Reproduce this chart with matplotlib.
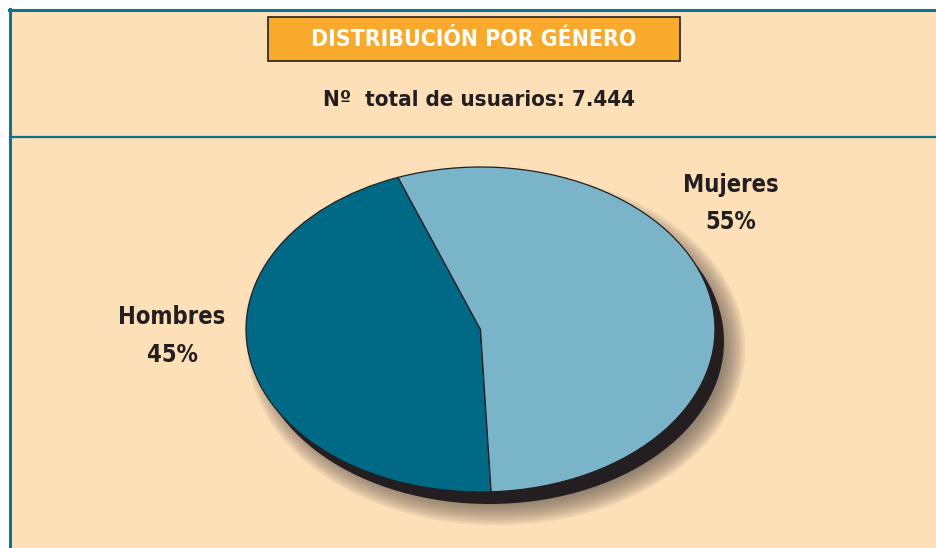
import matplotlib.pyplot as plt
from matplotlib.patches import Ellipse, Rectangle
from matplotlib.lines import Line2D

# data
labels = ['Hombres', 'Mujeres']
shares = [45, 55]
colors = ['#006a86', '#7ab4c8']
title = 'DISTRIBUCIÓN POR GÉNERO'
subtitle = 'Nº  total de usuarios: 7.444'

W, H = 937, 548
bg = '#fddfb8'
teal = '#0e7290'
ink = '#231f20'
fam = ['DejaVu Sans']


def fx(px):
    return px / W


def fy(py):
    return 1 - py / H


fig = plt.figure(figsize=(W / 100, H / 100), dpi=100)
fig.patch.set_facecolor('white')

# peach panel + teal frame lines
fig.patches.append(Rectangle((fx(9), 0), 1, fy(9), transform=fig.transFigure,
                             facecolor=bg, edgecolor='none', zorder=-5))
fig.lines.append(Line2D([fx(9), 1], [fy(10), fy(10)], transform=fig.transFigure,
                        color=teal, lw=2.2, zorder=-4))
fig.lines.append(Line2D([fx(10), fx(10)], [0, fy(9)], transform=fig.transFigure,
                        color=teal, lw=2.2, zorder=-4))
fig.lines.append(Line2D([fx(10), 1], [fy(137), fy(137)], transform=fig.transFigure,
                        color=teal, lw=1.6, zorder=-4))

# title box
fig.patches.append(Rectangle((fx(268), fy(61)), fx(680) - fx(268), fy(17) - fy(61),
                             transform=fig.transFigure, facecolor='#f9a92c',
                             edgecolor=ink, lw=1.2, zorder=2))
fig.text(fx(474), fy(40), title, ha='center', va='center', color='white',
         fontsize=16.5, fontweight='bold', family=fam, fontstretch='condensed', zorder=3)
fig.text(fx(479), fy(100), subtitle, ha='center', va='center', color=ink,
         fontsize=16, fontweight='bold', family=fam, fontstretch='condensed')

# pie axes stretched to the ellipse
rx, ry = 234.5, 162.5
ax = fig.add_axes([fx(246), fy(492), fx(715) - fx(246), fy(167) - fy(492)])
ax.axis('off')

# soft shadow, then the hard black rim
for i in range(12):
    grow = -10 + 2.2 * i
    ax.add_patch(Ellipse((16 / rx, -19 / ry), 2 + 2 * grow / rx,
                         2 + 2 * grow / ry, facecolor='#5f544b',
                         edgecolor='none', alpha=0.09, zorder=0, clip_on=False))
ax.add_patch(Ellipse((9 / rx, -12 / ry), 2, 2, facecolor=ink, edgecolor='none',
                     zorder=1, clip_on=False))

ax.pie(shares, colors=colors, startangle=110.6, counterclock=True,
       wedgeprops=dict(edgecolor=ink, linewidth=0.9, zorder=2))
ax.set_aspect('auto')
ax.set_xlim(-1, 1)
ax.set_ylim(-1, 1)

lab_kw = dict(ha='center', va='center', color=ink, fontsize=17, fontweight='bold',
              family=fam, fontstretch='condensed')
fig.text(fx(172), fy(317), labels[0], **lab_kw)
fig.text(fx(172), fy(355), f'{shares[0]}%', **lab_kw)
fig.text(fx(731), fy(185), labels[1], **lab_kw)
fig.text(fx(731), fy(222), f'{shares[1]}%', **lab_kw)

fig.savefig('out.png', dpi=100, facecolor=fig.get_facecolor())
